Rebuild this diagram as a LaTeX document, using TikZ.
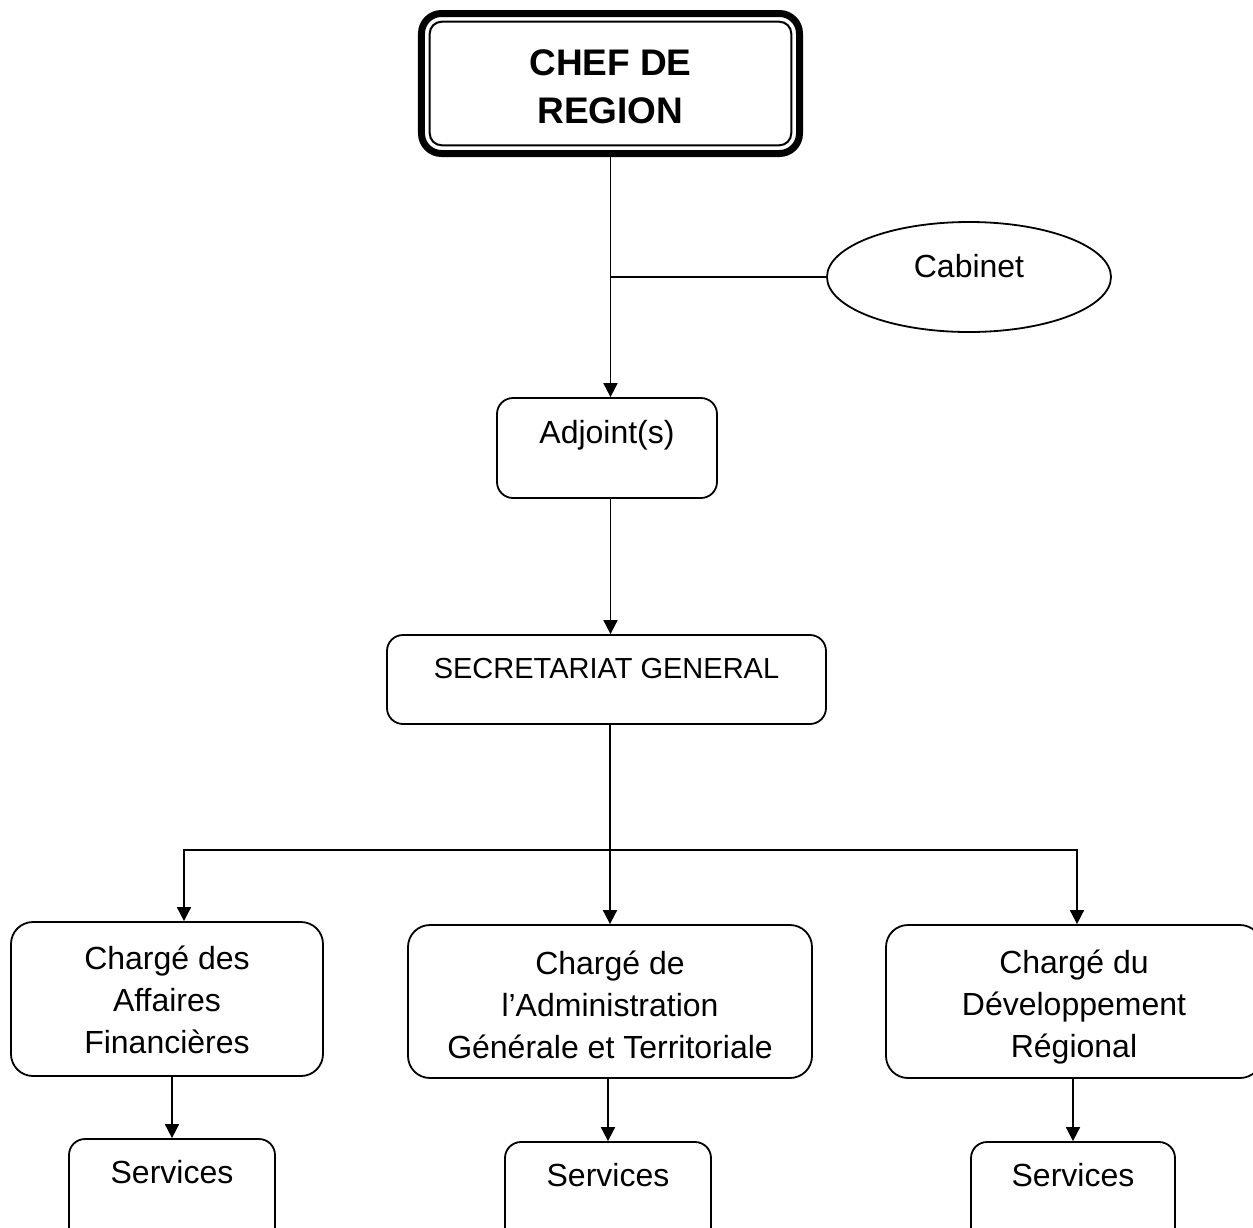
\documentclass[tikz,border=0pt]{standalone}
\usepackage{fontspec}
\setmainfont{Liberation Sans}
\usetikzlibrary{shapes,positioning,calc,arrows.meta}

\begin{document}
\begin{tikzpicture}[
    node distance=100pt,
    line width=0.9pt,
    >={Triangle[length=7pt,width=7pt]},
    chief/.style={rectangle,draw,line width=3.5pt,outer sep=0pt,rounded corners=10pt,align=center,inner sep=0pt,minimum width=189pt,text height=54.75pt,text depth=15.25pt,font=\fontsize{18.5}{24}\selectfont\bfseries},
    unit/.style={rectangle,draw,rounded corners=8pt,inner sep=0pt,font=\fontsize{16}{21}\selectfont},
    dept/.style={rectangle,draw,rounded corners=11pt,align=center,inner sep=0pt,font=\fontsize{16}{21}\selectfont},
    staff/.style={ellipse,draw,inner sep=0pt,minimum width=142pt,minimum height=55pt,text height=10pt,text depth=10pt,font=\fontsize{16}{21}\selectfont}
    ]
        \useasboundingbox (-305.25pt,-571.75pt) rectangle (321.25pt,41.75pt);
        \node [chief](chef) {CHEF DE\\REGION};
        \draw [line width=1pt,rounded corners=6pt] ([shift={(4.1pt,4.1pt)}]chef.south west) rectangle ([shift={(-4.1pt,-4.1pt)}]chef.north east);
        \node [unit,minimum width=110pt,text height=22.75pt,text depth=27.25pt](adj) [below of=chef,node distance=182.25pt,xshift=-1.75pt] {Adjoint(s)};
        \node [staff](cab) [right of=chef,node distance=179.25pt,yshift=-96.75pt] {Cabinet};
        \node [unit,minimum width=219.5pt,text height=21.75pt,text depth=22.75pt,font=\fontsize{14.5}{18}\selectfont](sg) [below of=adj,node distance=115.75pt,xshift=-0.25pt] {SECRETARIAT GENERAL};
        \node [dept,minimum width=202pt,text height=66.5pt,text depth=10pt](adm) [below of=sg,node distance=161pt,xshift=1.75pt] {Chargé de\\l’Administration\\Générale et Territoriale};
        \node [dept,minimum width=156pt,text height=65.5pt,text depth=11.5pt](fin) [left of=adm,node distance=221.5pt,yshift=1.25pt] {Chargé des\\Affaires\\Financières};
        \node [dept,minimum width=188pt,text height=66pt,text depth=10.5pt](dev) [right of=adm,node distance=232pt] {Chargé du\\Développement\\Régional};
        \node [unit,minimum width=103pt,text height=22.25pt,text depth=33.25pt](serv1) [below of=fin,node distance=97.75pt,xshift=2.5pt] {Services};
        \node [unit,minimum width=103pt,text height=22.25pt,text depth=33.25pt](serv2) [below of=adm,node distance=98pt,xshift=-1pt] {Services};
        \node [unit,minimum width=102pt,text height=22.25pt,text depth=33.25pt](serv3) [below of=dev,node distance=98pt,xshift=-0.5pt] {Services};
        \coordinate (split) at ([yshift=37pt]adm.north);
        \draw [->] (chef.south) -- (chef.south |- adj.north);
        \draw (chef.south |- cab.west) -- (cab.west);
        \draw [->] (adj.south -| chef.south) -- (sg.north -| chef.south);
        \draw [->] (sg.south -| adm.north) -- (adm.north);
        \draw [->] (split) -| ([xshift=8.5pt]fin.north);
        \draw [->] (split) -| ([xshift=1.5pt]dev.north);
        \draw [->] (fin.south -| serv1.north) -- (serv1.north);
        \draw [->] (adm.south -| serv2.north) -- (serv2.north);
        \draw [->] (dev.south -| serv3.north) -- (serv3.north);
\end{tikzpicture}
\end{document}
